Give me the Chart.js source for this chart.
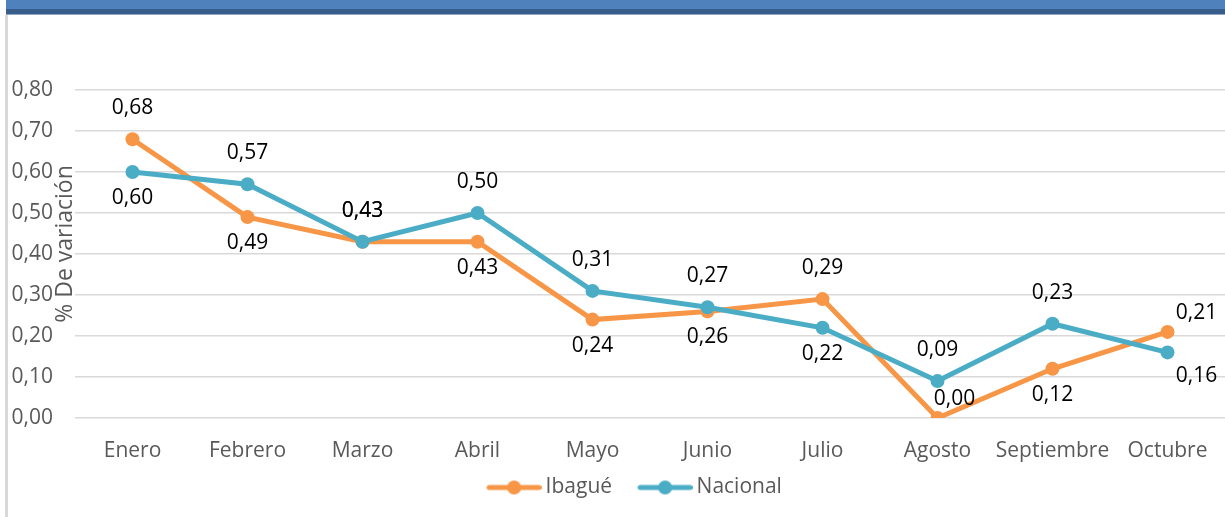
<!DOCTYPE html>
<html>
<head>
<meta charset="utf-8">
<script src="https://cdn.jsdelivr.net/npm/chart.js@4"></script>
<style>
	body { margin: 0; background: #fff; width: 1225px; height: 517px; overflow: hidden; position: relative; }
	.banner { position: absolute; left: 6px; top: 0; right: 0; height: 15px;
		background: linear-gradient(to bottom, #4f81bd 0px, #4f81bd 9px, #385d8a 9px, #385d8a 14px, #8ea6c4 14px, #8ea6c4 15px); }
	.leftbar { position: absolute; left: 5px; top: 15px; width: 3px; bottom: 0; background: #d9d9d9; }
	.wrap { position: absolute; left: 8px; top: 15px; width: 1217px; height: 502px; }
</style>
</head>
<body>
<div class="banner"></div>
<div class="leftbar"></div>
<div class="wrap"><canvas id="chart"></canvas></div>
<script>
const meses = ['Enero', 'Febrero', 'Marzo', 'Abril', 'Mayo', 'Junio', 'Julio', 'Agosto', 'Septiembre', 'Octubre'];
const ibague = [0.68, 0.49, 0.43, 0.43, 0.24, 0.26, 0.29, 0.00, 0.12, 0.21];
const nacional = [0.60, 0.57, 0.43, 0.50, 0.31, 0.27, 0.22, 0.09, 0.23, 0.16];
const yTicks = [0, 0.1, 0.2, 0.3, 0.4, 0.5, 0.6, 0.7, 0.8];
// donde va cada etiqueta: arriba (>0) o abajo (<0) del punto, y corrimiento lateral
const posIbague = [1, -1, 1, -1, -1, -1, 1, 0.62, -1, 0.62];
const posNacional = [-1, 1, 1, 1, 1, 1, -1, 1, 1, -0.9];
const corrIbague = [0, 0, 0, 0, 0, 0, 0, 17, 0, 29];
const corrNacional = [0, 0, 0, 0, 0, 0, 0, 0, 0, 29];

const FONT = 'Open Sans';
const NARANJA = '#f79646';
const AZUL = '#4bacc6';

// linea con punto para la leyenda (con margen a la izquierda)
function marcador(color) {
	const c = document.createElement('canvas');
	c.width = 73; c.height = 16;
	const g = c.getContext('2d');
	g.strokeStyle = color; g.lineWidth = 5; g.lineCap = 'round';
	g.beginPath(); g.moveTo(20.5, 8); g.lineTo(70.5, 8); g.stroke();
	g.fillStyle = color;
	g.beginPath(); g.arc(45.5, 8, 7, 0, Math.PI * 2); g.fill();
	return c;
}

const etiquetas = {
	id: 'etiquetas',
	afterDatasetsDraw(chart) {
		const ctx = chart.ctx;
		ctx.save();
		ctx.font = '21px "' + FONT + '"';
		ctx.fillStyle = '#000';
		ctx.textAlign = 'center';
		ctx.textBaseline = 'middle';
		chart.data.datasets.forEach((ds, i) => {
			const meta = chart.getDatasetMeta(i);
			meta.data.forEach((pt, j) => {
				const dir = ds.pos[j];
				const y = dir > 0 ? pt.y - 31 * dir : pt.y - 26 * dir;
				ctx.fillText(ds.data[j].toFixed(2).replace('.', ','), pt.x + ds.corr[j], y);
			});
		});
		ctx.restore();
	}
};

const ajustes = {
	id: 'ajustes',
	afterLayout(chart) {
		// el area del grafico llega hasta el borde derecho, como en el original
		const a = chart.chartArea;
		const extra = chart.width - a.right;
		if (extra > 0) {
			a.right += extra;
			a.width += extra;
			const x = chart.scales.x;
			x.right = a.right;
			x.width = x.right - x.left;
			x.configure();
		}
		// la leyenda del original no queda centrada en el lienzo
		chart.legend.left += 12;
		chart.legend.right += 12;
	},
	afterDraw(chart) {
		const ctx = chart.ctx;
		const a = chart.chartArea;
		ctx.save();
		ctx.translate(a.left - 10, (a.top + a.bottom) / 2 - 10);
		ctx.rotate(-Math.PI / 2);
		ctx.font = '23px "' + FONT + '"';
		ctx.fillStyle = '#595959';
		ctx.textAlign = 'center';
		ctx.textBaseline = 'middle';
		ctx.fillText('% De variación', 0, 0);
		ctx.restore();
	}
};

const chart = new Chart(document.getElementById('chart'), {
	type: 'line',
	data: {
		labels: meses,
		datasets: [{
			label: 'Ibagué',
			data: ibague,
			pos: posIbague,
			corr: corrIbague,
			borderColor: NARANJA,
			backgroundColor: NARANJA,
			borderWidth: 5,
			pointRadius: 7,
			pointBorderWidth: 0,
			order: 1,
			marker: marcador(NARANJA)
		}, {
			label: 'Nacional',
			data: nacional,
			pos: posNacional,
			corr: corrNacional,
			borderColor: AZUL,
			backgroundColor: AZUL,
			borderWidth: 5,
			pointRadius: 7,
			pointBorderWidth: 0,
			order: 0,
			marker: marcador(AZUL)
		}]
	},
	options: {
		responsive: true,
		maintainAspectRatio: false,
		animation: false,
		layout: { padding: { top: 75, left: 0, right: 0, bottom: 9 } },
		plugins: {
			tooltip: { enabled: false },
			legend: {
				position: 'bottom',
				labels: {
					usePointStyle: true,
					pointStyleWidth: 60,
					padding: 14,
					color: '#595959',
					font: { family: FONT, size: 21 },
					generateLabels(ch) {
						return ch.data.datasets.map((ds, i) => ({
							text: ds.label,
							pointStyle: ds.marker,
							fillStyle: ds.backgroundColor,
							strokeStyle: ds.borderColor,
							fontColor: '#595959',
							lineWidth: 0,
							hidden: false,
							datasetIndex: i
						}));
					}
				}
			}
		},
		scales: {
			x: {
				offset: true,
				afterFit(scale) { scale.height = 45; },
				grid: { display: false },
				border: { display: false },
				ticks: { color: '#595959', font: { family: FONT, size: 21 }, padding: 12, maxRotation: 0, autoSkip: false }
			},
			y: {
				min: 0,
				max: 0.8,
				afterFit(scale) { scale.width = 67; },
				afterBuildTicks(scale) { scale.ticks = yTicks.map(v => ({ value: v })); },
				grid: { color: '#d9d9d9', lineWidth: 1.5, drawTicks: false },
				border: { display: false },
				ticks: {
					color: '#595959',
					font: { family: FONT, size: 21 },
					padding: 22,
					callback: v => v.toFixed(2).replace('.', ',')
				}
			}
		}
	},
	plugins: [etiquetas, ajustes]
});
</script>
</body>
</html>
